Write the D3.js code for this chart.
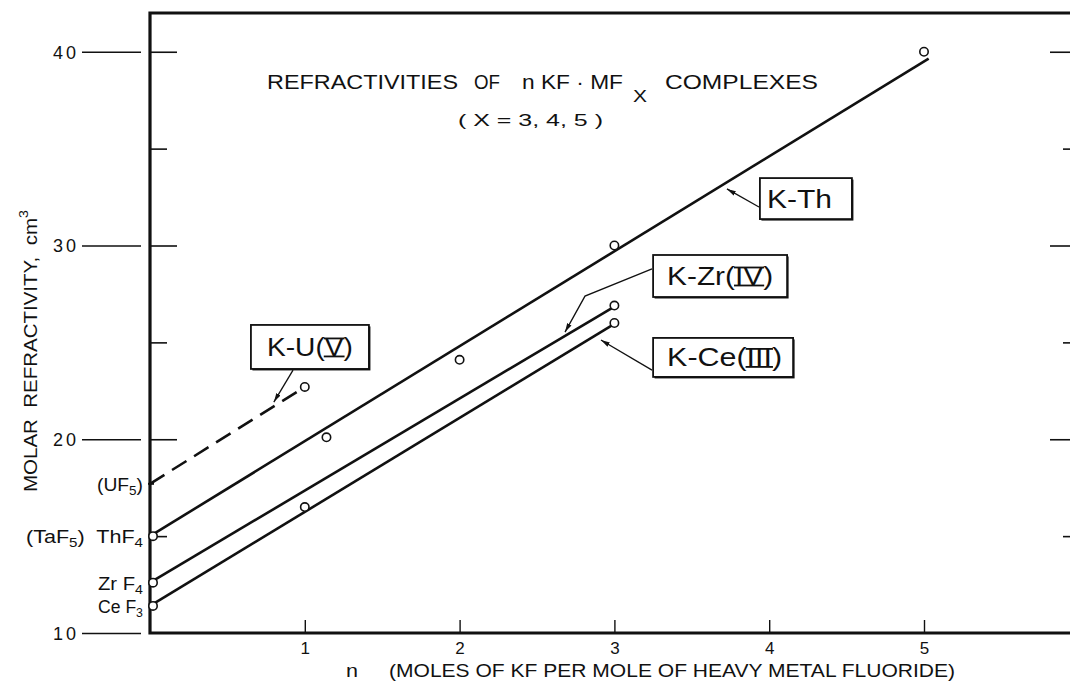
<!DOCTYPE html>
<html>
  <head>
    <meta charset="utf-8" />
    <title>Refractivities of nKF·MFx complexes</title>
    <script src="https://d3js.org/d3.v7.min.js"></script>
    <style>
      body { margin: 0; background: #fff; }
      svg { display: block; font-family: "Liberation Sans", Arial, sans-serif; }
      svg text { fill: #111; white-space: pre; }
      .tick line { stroke: #111; }
    </style>
  </head>
  <body>
    <svg width="1070" height="681"></svg>
    <script>
      // measured points (n, molar refractivity cm3)
      const thN = [0, 1.14, 2.0, 3.0, 5.0];
      const thR = [15.0, 20.1, 24.1, 30.0, 40.0];
      const zrN = [0, 3.0];
      const zrR = [12.6, 26.9];
      const ceN = [0, 1.0, 3.0];
      const ceR = [11.4, 16.5, 26.0];
      const uN = [1.0];
      const uR = [22.7];

      // ends of the drawn straight lines
      const thFitN = [0, 5.03], thFitR = [15.0, 39.65];
      const zrFitN = [0, 3.0], zrFitR = [12.6, 26.85];
      const ceFitN = [0, 3.0], ceFitR = [11.4, 25.95];
      const uFitN = [0, 0.97], uFitR = [17.7, 22.55];

      const yMajor = [10, 20, 30, 40];
      const yMinor = [15, 25, 35];
      const xTicks = [1, 2, 3, 4, 5];

      // intercept labels on the left axis
      const leftLabels = [
        { v: 17.7, w: 46, parts: [["(UF", ""], ["5", "sub"], [")", ""]] },
        { v: 15.0, w: 117, parts: [["(TaF", ""], ["5", "sub"], [")  ThF", ""], ["4", "sub"]] },
        { v: 12.6, w: 45, parts: [["Zr F", ""], ["4", "sub"]] },
        { v: 11.4, w: 45, parts: [["Ce F", ""], ["3", "sub"]] },
      ];

      // boxed series labels: box corner (n, value), leader points (n, value)
      const boxLabels = [
        { pre: "K-Th", rn: "", post: "", n: 3.94, v: 33.48, w: 92, h: 41, pad: 7, tw: 65,
          leader: [[3.934, 31.99], [3.727, 32.92]] },
        { pre: "K-Zr(", rn: "IV", post: ")", n: 3.25, v: 29.51, w: 134, h: 42, pad: 14, tw: 106,
          leader: [[3.243, 28.79], [2.81, 27.39], [2.681, 25.53]] },
        { pre: "K-Ce(", rn: "III", post: ")", n: 3.25, v: 25.23, w: 140, h: 39, pad: 14, tw: 115,
          leader: [[3.243, 23.57], [2.913, 25.12]] },
        { pre: "K-U(", rn: "V", post: ")", n: 0.652, v: 25.9, w: 118, h: 44, pad: 16, tw: 86,
          leader: [[0.924, 23.57], [0.80, 21.92]] },
      ];

      const svg = d3.select("svg");
      const W = +svg.attr("width");

      const x = d3.scaleLinear().domain([0, 6]).range([150, 150 + 6 * 154.8]);
      const y = d3.scaleLinear().domain([10, 42]).range([633, 13]);

      // arrow head for leaders
      svg.append("defs").append("marker")
        .attr("id", "arrow")
        .attr("markerUnits", "userSpaceOnUse")
        .attr("markerWidth", 10).attr("markerHeight", 6)
        .attr("refX", 9).attr("refY", 3)
        .attr("orient", "auto")
        .append("path").attr("d", "M0,0.6 L9,3 L0,5.4 Z").attr("fill", "#111");

      // ---- axes ----
      function cleanAxis(g, w) {
        g.select(".domain").remove();
        g.selectAll(".tick line").attr("stroke-width", w);
      }

      // outside ticks and labels on the left
      svg.append("g")
        .attr("transform", "translate(141,0)")
        .call(d3.axisLeft(y).tickValues(yMajor).tickSize(59).tickPadding(6))
        .call(g => cleanAxis(g, 1.6))
        .call(g => g.selectAll("text")
          .attr("font-size", 18).attr("letter-spacing", 3).attr("dx", 3).attr("dy", "0.36em"));

      // inside ticks on the left
      svg.append("g").attr("transform", `translate(${x(0)},0)`)
        .call(d3.axisRight(y).tickValues(yMajor.slice(1)).tickSize(27).tickFormat(""))
        .call(g => cleanAxis(g, 1.6));
      svg.append("g").attr("transform", `translate(${x(0)},0)`)
        .call(d3.axisRight(y).tickValues(yMinor).tickSize(17).tickFormat(""))
        .call(g => cleanAxis(g, 1.6));

      // ticks on the right edge
      svg.append("g").attr("transform", `translate(${W},0)`)
        .call(d3.axisLeft(y).tickValues(yMajor.slice(1)).tickSize(20).tickFormat(""))
        .call(g => cleanAxis(g, 1.6));
      svg.append("g").attr("transform", `translate(${W},0)`)
        .call(d3.axisLeft(y).tickValues(yMinor).tickSize(7).tickFormat(""))
        .call(g => cleanAxis(g, 1.6));

      // bottom ticks point up into the plot
      svg.append("g").attr("transform", `translate(0,${y(10)})`)
        .call(d3.axisBottom(x).tickValues(xTicks).tickSizeInner(-13).tickSizeOuter(0).tickPadding(9)
          .tickFormat(d3.format("d")))
        .call(g => cleanAxis(g, 1.4))
        .call(g => g.selectAll("text").attr("font-size", 17));

      // frame (open on the right)
      svg.append("path")
        .attr("d", `M${W},${y(42)} H${x(0)} V${y(10)} H${W}`)
        .attr("fill", "none").attr("stroke", "#111").attr("stroke-width", 3.2);

      // ---- lines ----
      const line = d3.line().x(d => x(d[0])).y(d => y(d[1]));
      const fits = [
        [thFitN, thFitR, null],
        [zrFitN, zrFitR, null],
        [ceFitN, ceFitR, null],
        [uFitN, uFitR, "17,9"],
      ];
      svg.append("g").selectAll("path").data(fits).join("path")
        .attr("d", d => line(d3.zip(d[0], d[1])))
        .attr("fill", "none").attr("stroke", "#111").attr("stroke-width", 2.6)
        .attr("stroke-dasharray", d => d[2]);

      // small mark where the UF5 line meets the axis
      svg.append("line")
        .attr("x1", x(0) - 2).attr("x2", x(0) + 4)
        .attr("y1", y(uFitR[0])).attr("y2", y(uFitR[0]))
        .attr("stroke", "#111").attr("stroke-width", 2);

      // ---- points ----
      const pts = [].concat(
        d3.zip(thN, thR), d3.zip(zrN, zrR), d3.zip(ceN, ceR), d3.zip(uN, uR));
      svg.append("g").selectAll("circle").data(pts).join("circle")
        .attr("cx", d => x(d[0]) + (d[0] === 0 ? 3 : 0))
        .attr("cy", d => y(d[1]))
        .attr("r", 4.2)
        .attr("fill", "#fff").attr("stroke", "#111").attr("stroke-width", 1.6);

      // ---- text helpers ----
      function rich(text, parts, size, down) {
        let shift = 0;
        parts.forEach(([s, kind]) => {
          const t = text.append("tspan").text(s);
          const want = kind === "sub" ? down : kind === "sup" ? -9 : 0;
          if (want !== shift) t.attr("dy", want - shift);
          if (kind) t.attr("font-size", size * 0.7);
          shift = want;
        });
      }

      // intercept labels
      leftLabels.forEach(l => {
        const t = svg.append("text")
          .attr("x", 143 - l.w).attr("y", y(l.v) + 7)
          .attr("font-size", 17.5)
          .attr("textLength", l.w).attr("lengthAdjust", "spacingAndGlyphs");
        rich(t, l.parts, 17.5, 4);
      });

      // title
      const titlePieces = [
        { s: "REFRACTIVITIES", x0: 267, len: 191 },
        { s: "OF", x0: 474, len: 26 },
        { s: "n KF · MF", x0: 522, len: 101 },
        { s: "COMPLEXES", x0: 665, len: 153 },
      ];
      svg.append("g").selectAll("text").data(titlePieces).join("text")
        .attr("x", d => d.x0).attr("y", 89)
        .attr("font-size", 20)
        .attr("textLength", d => d.len).attr("lengthAdjust", "spacingAndGlyphs")
        .text(d => d.s);
      svg.append("text").attr("x", 633).attr("y", 102).attr("font-size", 16)
        .attr("textLength", 14).attr("lengthAdjust", "spacingAndGlyphs").text("X");
      svg.append("text").attr("x", 458).attr("y", 126).attr("font-size", 17)
        .attr("textLength", 145).attr("lengthAdjust", "spacingAndGlyphs")
        .text("( X = 3, 4, 5 )");

      // axis titles
      svg.append("text").attr("x", 346).attr("y", 677).attr("font-size", 19)
        .attr("textLength", 12).attr("lengthAdjust", "spacingAndGlyphs").text("n");
      svg.append("text").attr("x", 389).attr("y", 677).attr("font-size", 19)
        .attr("textLength", 566).attr("lengthAdjust", "spacingAndGlyphs")
        .text("(MOLES OF KF PER MOLE OF HEAVY METAL FLUORIDE)");

      const yt = svg.append("text")
        .attr("transform", "translate(37,492) rotate(-90)")
        .attr("font-size", 19)
        .attr("textLength", 282).attr("lengthAdjust", "spacingAndGlyphs");
      rich(yt, [["MOLAR  REFRACTIVITY,  cm", ""], ["3", "sup"]], 19, 0);

      // ---- boxed labels ----
      boxLabels.forEach(b => {
        const bx = x(b.n), by = y(b.v);
        const g = svg.append("g");
        g.append("path")
          .attr("d", d3.line()(b.leader.map(p => [x(p[0]), y(p[1])])))
          .attr("fill", "none").attr("stroke", "#111").attr("stroke-width", 1.3)
          .attr("marker-end", "url(#arrow)");
        g.append("rect").attr("x", bx + 1.5).attr("y", by + 1.5)
          .attr("width", b.w).attr("height", b.h)
          .attr("fill", "#111");
        g.append("rect").attr("x", bx).attr("y", by)
          .attr("width", b.w).attr("height", b.h)
          .attr("fill", "#fff").attr("stroke", "#111").attr("stroke-width", 1.8);
        const base = by + b.h / 2 + 9;
        const t = g.append("text")
          .attr("x", bx + b.pad).attr("y", base)
          .attr("font-size", 25)
          .attr("textLength", b.tw).attr("lengthAdjust", "spacingAndGlyphs");
        t.append("tspan").text(b.pre);
        if (b.rn) {
          t.append("tspan").text(b.rn);
          t.append("tspan").text(b.post);
          // bars above and below the roman numeral
          const node = t.node();
          const i0 = b.pre.length, i1 = i0 + b.rn.length - 1;
          const e0 = node.getExtentOfChar(i0), e1 = node.getExtentOfChar(i1);
          const xa = e0.x - 1, xb = e1.x + e1.width + 1;
          [base - 17.5, base + 0.5].forEach(yy => {
            g.append("line").attr("x1", xa).attr("x2", xb)
              .attr("y1", yy).attr("y2", yy)
              .attr("stroke", "#111").attr("stroke-width", 1.8);
          });
        }
      });
    </script>
  </body>
</html>
